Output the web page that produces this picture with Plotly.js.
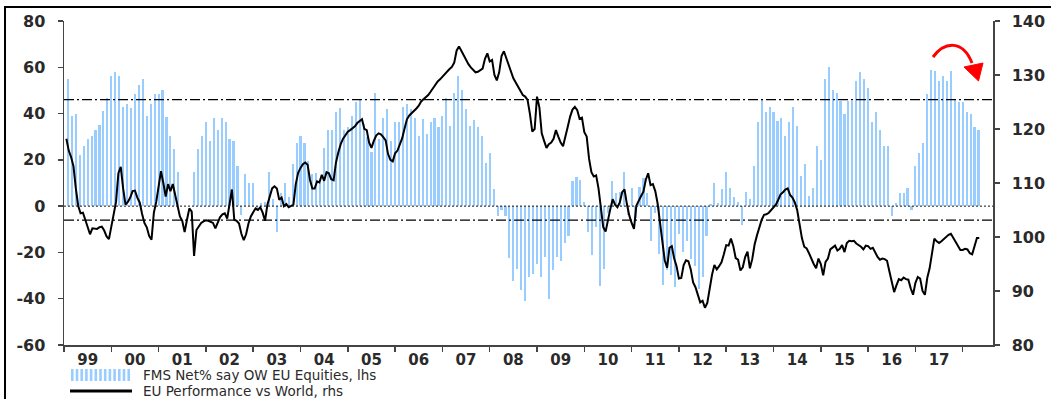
<!DOCTYPE html>
<html><head><meta charset="utf-8">
<script src="https://cdn.plot.ly/plotly-3.0.1.min.js"></script>
<style>html,body{margin:0;padding:0;background:#fff;overflow:hidden}#chart{width:1051px;height:399px}</style>
</head><body><div id="chart"></div>
<script>
// ---------- DATA ----------
const yearLabels = ['99','00','01','02','03','04','05','06','07','08','09','10','11','12','13','14','15','16','17'];
const firstYear = 1999;
// FMS Net% say OW EU Equities (lhs), monthly from Jan 1999
const fmsNet = [
 54.8,38.9,40,22,26,28.8,30.3,32.9,34.9,40.9,46.8,56.2,
 58,56.2,42.7,44,42.2,48.3,52.3,54.8,38.9,44,48.3,48.3,
 50.1,38.6,30.3,24.8,14.9,null,null,null,14.8,24.9,30.3,36.2,
 28,38.3,32.9,38.3,36.2,28.8,28,17.4,-4,14.1,10,10,
 -2,1.5,2,14.8,3,-11,5.5,10,4,18.2,27.4,30.3,
 27.4,19.6,14.1,14.4,10,25,32.9,32.9,40.8,42.2,32.9,34,
 38.9,44.8,45.8,35.7,30,23.5,49,28.8,38.2,42,28,36.2,
 36.2,42.7,44,42,37.9,30.3,37.6,31,36.2,38.2,34.3,38.9,
 46.8,34.7,49,56.2,50.1,42,34.7,37.2,34.3,30.3,18.7,22.8,
 7.3,-4.3,-1.7,-4.3,-22.3,-32.3,-27.2,-36.3,-40.9,-30.8,-29.4,-24.8,
 -30.8,-21.9,-40.3,-27.7,-22,-23.6,-15.9,-13,11,12.7,11.2,1.9,
 -11,-21,-9,-34.6,-27,-3,11,5.5,6,14.8,-4,8,
 -5,8.3,12,5.5,-15,-3,-20.7,-34,-27.7,-29.8,-35,-12,
 -20,-15,-23,-26,-35.6,-30.5,-13,1,10,1.4,7.3,14.8,
 8,4,2,-8.2,6.2,2.9,17.4,36.2,45.8,40.8,42.9,40.8,
 36.9,38.2,30.3,36.2,42.9,34.7,13,18.2,4.3,8,26,19.9,
 54.8,60.2,50,49,45.4,40,45.4,45.4,54.2,58,54.8,50.9,
 36.2,40.8,32.9,26,26,-4.3,1.4,5.5,5.5,8,-1.7,17.4,
 22.8,27.4,48.3,58.8,58.4,54.2,56.3,54.2,58.4,46.5,45.1,45.1,
 40.8,40,34.3,33.1
];
// EU Performance vs World (rhs), sampled every 0.05 year from 1999.05
const perfStart = 1999.05, perfStep = 0.05;
const euPerf = [
 118.2,116.0,114.8,113.1,109.0,105.8,104.4,104.5,103.2,101.6,
 100.5,101.6,101.6,101.5,101.8,101.9,101.2,100.1,99.6,102.0,
 104.5,106.5,111.8,113.0,109.0,106.0,106.5,107.3,108.5,108.6,
 107.3,106.4,104.3,102.6,101.8,100.2,99.5,104.5,106.5,109.5,
 112.2,110.0,107.5,109.8,108.5,109.8,107.7,105.5,103.8,103.0,
 100.9,103.2,105.3,104.7,96.5,101.3,102.0,102.6,102.9,103.1,
 103.0,102.8,102.6,101.6,102.7,103.7,104.2,104.4,103.4,105.8,
 108.8,103.2,103.0,102.5,100.6,99.4,100.5,102.5,103.8,104.6,
 105.3,105.0,105.5,104.5,103.0,106.0,107.4,109.0,109.4,109.0,
 106.9,107.3,105.7,106.1,105.5,105.7,106.0,109.8,111.9,112.8,
 113.5,113.8,113.4,110.6,109.0,109.0,110.3,110.1,111.5,110.4,
 112.0,111.8,110.7,110.5,113.8,115.7,117.2,118.2,118.9,119.5,
 119.8,120.1,120.5,121.1,121.5,121.8,120.0,119.8,117.5,116.5,
 117.8,118.8,119.2,119.0,118.5,117.9,115.4,114.3,114.0,115.5,
 116.0,117.2,118.3,120.1,121.8,122.5,122.9,123.3,123.8,124.3,
 125.1,125.5,125.9,126.3,126.9,127.6,128.2,128.8,129.2,129.7,
 130.3,130.7,131.1,131.5,132.3,134.5,135.3,134.5,133.6,132.8,
 132.0,131.4,130.9,130.5,130.6,130.9,131.2,133.0,134.0,132.5,
 132.8,130.0,129.0,130.5,133.5,134.4,133.2,131.7,130.5,129.4,
 128.6,127.8,127.0,126.3,126.0,125.4,122.8,119.5,120.0,126.0,
 124.0,119.2,117.8,116.5,117.2,117.5,118.2,119.8,118.6,117.5,
 116.8,118.4,120.4,122.3,123.6,124.1,123.5,121.9,122.1,119.4,
 118.6,114.5,112.0,111.2,111.4,109.0,105.6,101.8,101.0,103.5,
 105.2,107.0,106.0,105.5,106.4,108.3,108.8,106.1,104.0,102.6,
 101.5,105.8,106.8,107.6,108.4,110.6,111.8,109.6,109.8,108.5,
 106.2,102.6,99.7,95.7,94.3,98.0,98.3,96.0,94.6,92.3,
 92.4,94.8,95.7,95.5,94.0,91.6,90.7,89.2,87.9,88.2,
 86.9,87.8,90.6,93.0,94.8,94.0,94.6,95.3,96.8,98.5,
 98.4,99.7,98.3,96.1,95.8,93.8,94.4,96.3,97.3,94.2,
 95.9,98.6,100.3,101.7,103.2,104.1,104.2,104.5,105.0,105.6,
 106.0,106.9,107.9,108.3,108.8,109.0,107.8,107.3,106.4,105.0,
 102.0,99.8,98.2,97.9,97.0,95.8,95.0,94.2,96.0,95.0,
 92.9,95.4,96.0,97.7,98.0,98.4,97.5,97.8,98.5,97.2,
 98.9,99.3,99.2,99.3,98.8,98.5,98.2,97.7,98.4,98.3,
 97.8,98.0,97.1,96.3,95.8,96.0,95.9,95.6,93.6,91.4,
 89.8,91.1,92.2,92.0,92.5,92.2,92.1,90.5,89.3,91.5,
 92.6,92.3,90.0,89.3,92.4,94.2,97.4,99.7,99.2,98.9,
 99.2,99.6,100.0,100.4,100.6,99.8,99.1,98.4,97.6,97.6,
 97.8,97.7,97.0,96.8,98.2,99.8,99.8
];
const lhsTickVals = [-60,-40,-20,0,20,40,60,80];
const lhsTickText = ['-60','-40','-20','0','20','40','60','80'];
const rhsTickVals = [80,90,100,110,120,130,140];
const rhsTickText = ['80','90','100','110','120','130','140'];
const thresholds = [46,-6];
const legendNames = ['FMS Net% say OW EU Equities, lhs','EU Performance vs World, rhs'];

// ---------- BUILD ----------
const fmsX = fmsNet.map((v,i)=>firstYear + (i+1)/12);
const perfX = euPerf.map((v,i)=>perfStart + perfStep*i);
const labelVals = yearLabels.map((s,i)=>firstYear + i + 0.5);
const yearBounds = []; for (let y=firstYear; y<=firstYear+yearLabels.length; y++) yearBounds.push(y);

const W=1051,H=399, L=64, R=58, T=21, B=54;
const pw=W-L-R, ph=H-T-B;
const PX=(x)=>(x-L)/pw, PY=(y)=>(H-B-y)/ph;

const FONT='DejaVu Sans';
const axisCol='#444';
const tickFont={family:FONT,size:16,color:'#2a2a2a',weight:'bold'};
const xTickFont={family:FONT,size:15,color:'#2a2a2a',weight:'bold'};

const shapes=[];
thresholds.forEach(v=>shapes.push({type:'line',xref:'paper',yref:'y',x0:0,x1:1,y0:v,y1:v,
  line:{color:'#000',width:1.2,dash:'10px,3px,2px,3px'}}));
shapes.push({type:'line',xref:'paper',yref:'y',x0:0,x1:1,y0:0,y1:0,line:{color:'#111',width:1,dash:'2px,2px'}});
// outer frame
shapes.push({type:'rect',xref:'paper',yref:'paper',x0:PX(5),x1:PX(1060),y0:PY(7),y1:PY(420),line:{color:'#000',width:2},fillcolor:'rgba(0,0,0,0)',layer:'above'});
// red curved arrow
shapes.push({type:'path',xref:'paper',yref:'paper',
  path:`M ${PX(933)},${PY(57)} C ${PX(945)},${PY(41)} ${PX(963)},${PY(40)} ${PX(972)},${PY(63)}`,
  line:{color:'#ff0000',width:3}});
shapes.push({type:'path',xref:'paper',yref:'paper',
  path:`M ${PX(964)},${PY(67)} L ${PX(983)},${PY(63)} L ${PX(978.5)},${PY(81)} Z`,
  line:{color:'#ff0000',width:1},fillcolor:'#ff0000'});
// legend symbols
const LEG1=375, LEG2=391;
for(let k=0;k<13;k++){
  const x0=71+k*4.7;
  shapes.push({type:'rect',xref:'paper',yref:'paper',x0:PX(x0),x1:PX(x0+2.6),y0:PY(LEG1+6),y1:PY(LEG1-6),
    line:{width:0},fillcolor:'#99CCFF'});
}
shapes.push({type:'line',xref:'paper',yref:'paper',x0:PX(70),x1:PX(132),y0:PY(LEG2),y1:PY(LEG2),line:{color:'#000',width:3}});

const legFont={family:FONT,size:13.5,color:'#2a2a2a'};
const annotations=[
 {xref:'paper',yref:'paper',x:PX(141),y:PY(LEG1),text:legendNames[0],showarrow:false,xanchor:'left',yanchor:'middle',font:legFont},
 {xref:'paper',yref:'paper',x:PX(141),y:PY(LEG2),text:legendNames[1],showarrow:false,xanchor:'left',yanchor:'middle',font:legFont}
];

const traces=[
 {type:'bar',x:fmsX,y:fmsNet,width:0.045,marker:{color:'#99CCFF',line:{width:0}},name:legendNames[0],yaxis:'y',xaxis:'x'},
 {type:'scatter',mode:'lines',x:perfX,y:euPerf,line:{color:'#000',width:2},name:legendNames[1],yaxis:'y2',xaxis:'x'}
];

const layout={
 width:W,height:H,margin:{l:L,r:R,t:T,b:B,pad:0},
 paper_bgcolor:'#fff',plot_bgcolor:'#fff',showlegend:false,bargap:0,
 xaxis:{range:[firstYear,2018.64],tickmode:'array',tickvals:labelVals,ticktext:yearLabels,ticks:'',
   showline:true,linecolor:axisCol,linewidth:1.5,showgrid:false,zeroline:false,tickfont:xTickFont,ticklabelstandoff:0,
   minor:{tickmode:'array',tickvals:yearBounds,ticks:'outside',ticklen:5,tickwidth:1.5,tickcolor:axisCol,showgrid:false}},
 yaxis:{range:[-60,80],tickmode:'array',tickvals:lhsTickVals,ticktext:lhsTickText,ticks:'outside',ticklen:5,tickwidth:1.5,tickcolor:axisCol,
   showline:true,linecolor:axisCol,linewidth:1.5,showgrid:false,zeroline:false,tickfont:tickFont,ticklabelstandoff:9},
 yaxis2:{range:[80,140],overlaying:'y',side:'right',tickmode:'array',tickvals:rhsTickVals,ticktext:rhsTickText,ticks:'outside',ticklen:5,tickwidth:1.5,tickcolor:axisCol,
   showline:true,linecolor:axisCol,linewidth:1.5,showgrid:false,zeroline:false,tickfont:tickFont,ticklabelstandoff:9},
 shapes:shapes,annotations:annotations
};
Plotly.newPlot('chart',traces,layout,{staticPlot:true,displayModeBar:false});
</script></body></html>
